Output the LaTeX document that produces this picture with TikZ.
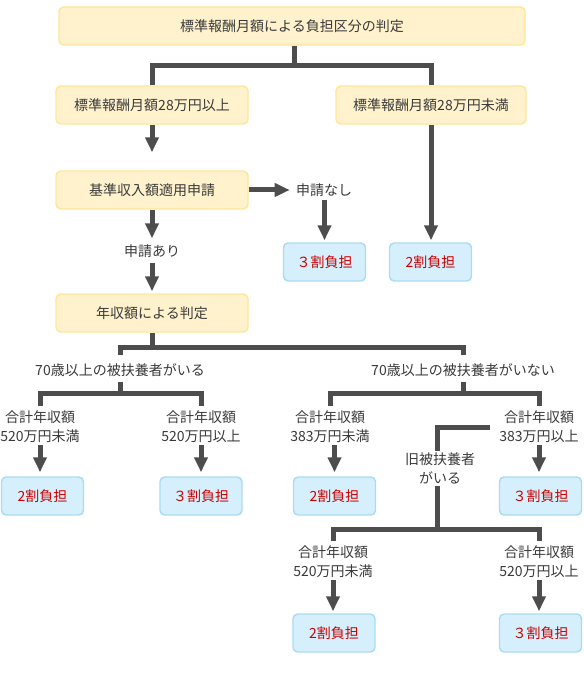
\documentclass[tikz,border=0pt]{standalone}
\usepackage{fontspec}
\setmainfont{Noto Sans CJK JP}
\usetikzlibrary{arrows.meta}
\definecolor{ybfill}{HTML}{FFF2CC}
\definecolor{ybdraw}{HTML}{FFE699}
\definecolor{bbfill}{HTML}{D5F0FC}
\definecolor{bbdraw}{HTML}{A9DCF4}
\definecolor{lncol}{HTML}{4D4D4D}
\definecolor{txtcol}{HTML}{3A3A3A}
\definecolor{redtxt}{HTML}{CC0000}
\tikzset{
  every node/.style={font=\fontsize{10.5pt}{14.25pt}\selectfont, text=txtcol},
  ybox/.style={draw=ybdraw, fill=ybfill, line width=1.1pt, rounded corners=3.5pt,
    minimum height=28.5pt, inner sep=0pt},
  bbox/.style={draw=bbdraw, fill=bbfill, line width=1.1pt, rounded corners=3.5pt,
    minimum height=28.5pt, minimum width=61.5pt, inner sep=0pt, text=redtxt},
  lbl/.style={inner sep=0pt, align=center},
  ln/.style={draw=lncol, line width=3.75pt, line join=miter, line cap=butt},
  arr/.style={ln, -{Triangle[length=11.25pt,width=9.75pt]}},
}
\begin{document}
\begin{tikzpicture}[x=0.75pt,y=-0.75pt]
\useasboundingbox (0,0) rectangle (584,684);
% yellow boxes
\node[ybox, minimum width=349.5pt] (top) at (292,26) {標準報酬月額による負担区分の判定};
\node[ybox, minimum width=144pt] (y1) at (152,105) {標準報酬月額28万円以上};
\node[ybox, minimum width=142.5pt] (y2) at (431,105) {標準報酬月額28万円未満};
\node[ybox, minimum width=144pt] (kijun) at (152,190) {基準収入額適用申請};
\node[ybox, minimum width=144pt] (nenshu) at (152,313) {年収額による判定};
% blue boxes
\node[bbox] (b1) at (324.5,262) {３割負担};
\node[bbox] (b2) at (430.5,262) {2割負担};
\node[bbox] (b3) at (42.5,496) {2割負担};
\node[bbox] (b4) at (201,496) {３割負担};
\node[bbox] (b5) at (334.5,496) {2割負担};
\node[bbox] (b6) at (540.5,496) {３割負担};
\node[bbox] (b7) at (334,633) {2割負担};
\node[bbox] (b8) at (540.5,633) {３割負担};
% labels
\node[lbl] (nashi) at (324,190) {申請なし};
\node[lbl] (ari) at (152,251) {申請あり};
\node[lbl] (gairu) at (120,370) {70歳以上の被扶養者がいる};
\node[lbl] (nai) at (463,370) {70歳以上の被扶養者がいない};
\node[lbl] (c1) at (40,427) {合計年収額\\520万円未満};
\node[lbl] (c2) at (201,427) {合計年収額\\520万円以上};
\node[lbl] (c3) at (330,427) {合計年収額\\383万円未満};
\node[lbl] (c4) at (539,427) {合計年収額\\383万円以上};
\node[lbl] (kyu) at (440,468.5) {旧被扶養者\\がいる};
\node[lbl] (c5) at (333,562) {合計年収額\\520万円未満};
\node[lbl] (c6) at (539,562) {合計年収額\\520万円以上};
% junctions
\coordinate (j1) at (294,66);
\coordinate (j2) at (152,347);
\coordinate (j3) at (120,393);
\coordinate (j4) at (463,393);
\coordinate (j5) at (437,529);
% connectors
\draw[ln] (j1 |- top.south) -- (j1);
\draw[ln] (y1.north) |- (j1) -| (y2.north);
\draw[arr, shorten >=13.5pt] (y1.south) -- (kijun.north);
\draw[arr, shorten >=4.5pt] (kijun.east) -- (nashi.west);
\draw[arr, shorten <=2.25pt, shorten >=1.5pt] (b1.north |- nashi.south) -- (b1.north);
\draw[arr, shorten >=1.5pt] (y2.south) -- (y2.south |- b2.north);
\draw[arr, shorten >=4.5pt] (kijun.south) -- (ari.north);
\draw[arr, shorten <=3.75pt, shorten >=1.5pt] (ari.south) -- (nenshu.north);
\draw[ln] (nenshu.south) -- (j2);
\draw[ln, shorten <=6pt, shorten >=6pt] (gairu.north) |- (j2) -| (nai.north);
\draw[ln, shorten <=3.75pt] (gairu.south) -- (j3);
\draw[ln, shorten <=3.75pt, shorten >=3.75pt] (c1.north) |- (j3) -| (c2.north);
\draw[ln, shorten <=3.75pt] (nai.south) -- (j4);
\draw[ln, shorten <=3.75pt, shorten >=3.75pt] (c3.north) |- (j4) -| (c4.north);
\draw[arr, shorten <=1.5pt, shorten >=3pt] (c1.south) -- (c1.south |- b3.north);
\draw[arr, shorten <=1.5pt, shorten >=3pt] (c2.south) -- (c2.south |- b4.north);
\draw[arr, shorten <=1.5pt, shorten >=3pt] (b5.north |- c3.south) -- (b5.north);
\draw[arr, shorten <=1.5pt, shorten >=3pt] (c4.south) -- (c4.south |- b6.north);
\draw[ln, shorten <=7pt, shorten >=1pt] (c4.west) -| (j5 |- kyu.north);
\draw[ln, shorten <=1.5pt] (j5 |- kyu.south) -- (j5);
\draw[ln, shorten <=3.75pt, shorten >=3.75pt] (c5.north) |- (j5) -| (c6.north);
\draw[arr, shorten <=1.5pt, shorten >=1.5pt] (c5.south) -- (c5.south |- b7.north);
\draw[arr, shorten <=1.5pt, shorten >=1.5pt] (c6.south) -- (c6.south |- b8.north);
\end{tikzpicture}
\end{document}
